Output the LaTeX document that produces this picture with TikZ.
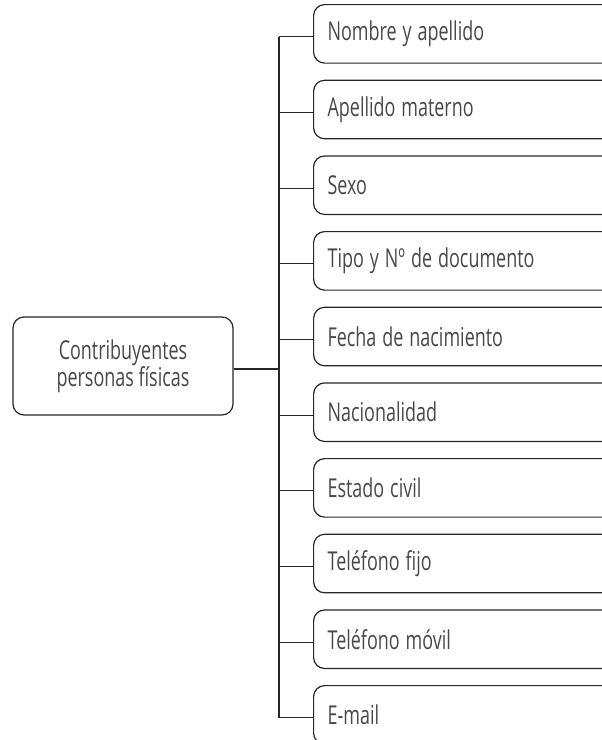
\documentclass[tikz,border=0pt]{standalone}
\usepackage{fontspec}
\usepackage{graphicx}
\setmainfont{Open Sans}
\definecolor{linec}{HTML}{262626}
\definecolor{textc}{HTML}{484848}
\newcommand{\cnd}[1]{\scalebox{0.69}[1]{#1}}
\begin{document}
\begin{tikzpicture}[x=1pt,y=-1pt,
  itembox/.style={draw=linec, line width=1.2pt, rounded corners=11pt,
    minimum width=300pt, minimum height=58.5pt, anchor=north west,
    text width=272pt, align=left, inner xsep=14pt, inner ysep=0pt,
    font=\fontsize{26}{30}\selectfont, text=textc},
  mainbox/.style={draw=linec, line width=1.2pt, rounded corners=11pt,
    minimum width=220pt, minimum height=98pt, align=center,
    font=\fontsize{26}{25}\selectfont, text=textc},
  conn/.style={draw=linec, line width=1.2pt}]
\useasboundingbox (0,0) rectangle (602,740);
\clip (0,0) rectangle (602,740);
\coordinate (trunk) at (279,0);
\foreach \i/\t in {1/Nombre y apellido, 2/Apellido materno, 3/Sexo,
  4/Tipo y Nº de documento, 5/Fecha de nacimiento, 6/Nacionalidad,
  7/Estado civil, 8/Teléfono fijo, 9/Teléfono móvil, 10/E-mail}{
  \node[itembox] (b\i) at (313, {4+75.67*(\i-1)}) {\cnd{\t}};
  \draw[conn] ([yshift=-3pt]b\i.west) -- ([yshift=-3pt]b\i.west -| trunk);
}
\draw[conn] ([yshift=-3pt]b1.west -| trunk) -- ([yshift=-3pt]b10.west -| trunk);
\node[mainbox] (main) at (123,366) {\cnd{Contribuyentes}\\\cnd{personas físicas}};
\draw[conn] ([yshift=-3pt]main.east) -- ([yshift=-3pt]main.east -| trunk);
\end{tikzpicture}
\end{document}
